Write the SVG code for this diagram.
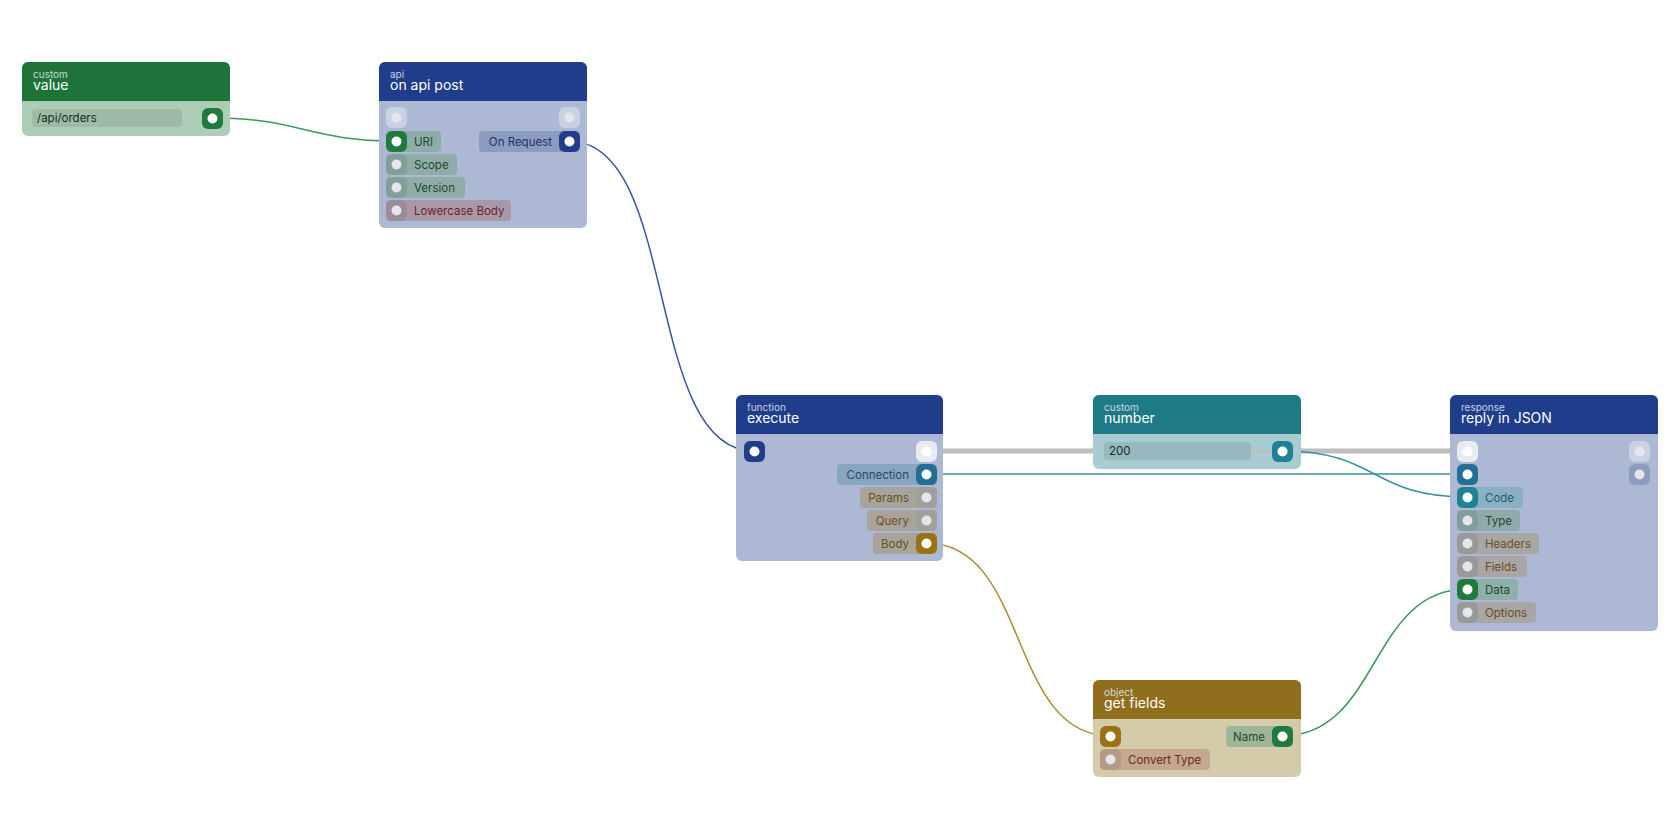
<svg xmlns="http://www.w3.org/2000/svg" width="1680" height="840" viewBox="0 0 1680 840">
<style>
text{font-family:Inter,"Noto Sans",sans-serif}
.cat{font-size:10px;fill:#e4e8f0;opacity:.85}
.ttl{font-size:14px;fill:#fff}
.pt{font-size:11.5px}
.wire{fill:none;stroke-width:1.5}
.dot{fill:#fff}
.idot{fill:#e4e6ec}
.ip{fill:#fff;opacity:.35}
.sq{fill:#000;opacity:.08}
</style>
<g id="connectors">
<path class="wire" stroke="#3a9a5a" d="M212 118 C300 118 308 141 396 141"/>
<path class="wire" stroke="#3a55a8" d="M569 141 C680 141 643 451 754 451"/>
<path fill="none" stroke="#bdbdbd" stroke-width="5" d="M926 451 L1467 451"/>
<path class="wire" stroke="#3a8fa8" d="M926 474 L1467 474"/>
<path class="wire" stroke="#3a8fa8" d="M1282 451 C1380 451 1369 497 1467 497"/>
<path class="wire" stroke="#b08a30" d="M926 543 C1030 543 1007 736 1111 736"/>
<path class="wire" stroke="#3a9a5a" d="M1282 736 C1380 736 1369 589 1467 589"/>
</g>
<g id="node-value">
<rect x="22" y="62" width="208" height="74" rx="6" fill="#aecdb6"/>
<path d="M22 101 V68 a6 6 0 0 1 6 -6 H224 a6 6 0 0 1 6 6 V101 Z" fill="#1e7339"/>
<text class="cat" x="33" y="78">custom</text><text class="ttl" x="33" y="90">value</text>
<rect x="32" y="109" width="150" height="18" rx="4" fill="#9dbba7"/>
<text class="pt" x="37" y="122" fill="#1a2a20">/api/orders</text>
<rect x="202" y="108" width="21" height="21" rx="6" fill="#1e7a3e"/><circle class="dot" cx="212.5" cy="118.5" r="5"/>
</g>
<g id="node-api">
<rect x="379" y="62" width="208" height="166" rx="6" fill="#adb9d4"/>
<path d="M379 101 V68 a6 6 0 0 1 6 -6 H581 a6 6 0 0 1 6 6 V101 Z" fill="#1f3d8a"/>
<text class="cat" x="390" y="78">api</text><text class="ttl" x="390" y="90">on api post</text>
<rect class="ip" x="386" y="107" width="21" height="21" rx="6"/><circle class="idot" cx="396.5" cy="117.5" r="5"/>
<rect class="ip" x="559" y="107" width="21" height="21" rx="6"/><circle class="idot" cx="569.5" cy="117.5" r="5"/>
<rect x="386" y="131" width="55" height="21" rx="4" fill="#8fada8"/>
<rect x="386" y="131" width="21" height="21" rx="6" fill="#1e7a3e"/><circle class="dot" cx="396.5" cy="141.5" r="5"/>
<text class="pt" x="414" y="146" fill="#1c4a2e">URI</text>
<rect x="386" y="154" width="71" height="21" rx="4" fill="#8fada8"/><rect class="sq" x="386" y="154" width="21" height="21" rx="6"/><circle class="idot" cx="396.5" cy="164.5" r="5"/>
<text class="pt" x="414" y="169" fill="#1c4a2e">Scope</text>
<rect x="386" y="177" width="79" height="21" rx="4" fill="#8fada8"/><rect class="sq" x="386" y="177" width="21" height="21" rx="6"/><circle class="idot" cx="396.5" cy="187.5" r="5"/>
<text class="pt" x="414" y="192" fill="#1c4a2e">Version</text>
<rect x="386" y="200" width="125" height="21" rx="4" fill="#a899a8"/><rect class="sq" x="386" y="200" width="21" height="21" rx="6"/><circle class="idot" cx="396.5" cy="210.5" r="5"/>
<text class="pt" x="414" y="215" fill="#6b1f2a">Lowercase Body</text>
<rect x="479" y="131" width="101" height="21" rx="4" fill="#8b9cc0"/>
<rect x="559" y="131" width="21" height="21" rx="6" fill="#1f3d8a"/><circle class="dot" cx="569.5" cy="141.5" r="5"/>
<text class="pt" x="552" y="146" fill="#1f3068" text-anchor="end">On Request</text>
</g>
<g id="node-execute">
<rect x="736" y="395" width="207" height="166" rx="6" fill="#adb9d4"/>
<path d="M736 434 V401 a6 6 0 0 1 6 -6 H937 a6 6 0 0 1 6 6 V434 Z" fill="#1f3d8a"/>
<text class="cat" x="747" y="411">function</text><text class="ttl" x="747" y="423">execute</text>
<rect x="744" y="441" width="21" height="21" rx="6" fill="#1f3d8a"/><circle class="dot" cx="754.5" cy="451.5" r="5"/>
<rect x="916" y="441" width="21" height="21" rx="6" fill="#e8ebf2"/><circle class="dot" cx="926.5" cy="451.5" r="5"/>
<rect x="837" y="464" width="100" height="21" rx="4" fill="#8aa5bf"/>
<rect x="916" y="464" width="21" height="21" rx="6" fill="#216f92"/><circle class="dot" cx="926.5" cy="474.5" r="5"/>
<text class="pt" x="909" y="479" fill="#1f4a6e" text-anchor="end">Connection</text>
<rect x="860" y="487" width="77" height="21" rx="4" fill="#a8a49b"/><rect x="916" y="487" width="21" height="21" rx="6" fill="#9a9a9a" opacity=".5"/><circle class="idot" cx="926.5" cy="497.5" r="5"/>
<text class="pt" x="909" y="502" fill="#6b4f1a" text-anchor="end">Params</text>
<rect x="867" y="510" width="70" height="21" rx="4" fill="#a8a49b"/><rect x="916" y="510" width="21" height="21" rx="6" fill="#9a9a9a" opacity=".5"/><circle class="idot" cx="926.5" cy="520.5" r="5"/>
<text class="pt" x="909" y="525" fill="#6b4f1a" text-anchor="end">Query</text>
<rect x="873" y="533" width="64" height="21" rx="4" fill="#a8a49b"/>
<rect x="916" y="533" width="21" height="21" rx="6" fill="#9a7214"/><circle class="dot" cx="926.5" cy="543.5" r="5"/>
<text class="pt" x="909" y="548" fill="#6b4f1a" text-anchor="end">Body</text>
</g>
<g id="node-number">
<rect x="1093" y="395" width="208" height="74" rx="6" fill="#a9ccd3"/>
<path d="M1093 434 V401 a6 6 0 0 1 6 -6 H1295 a6 6 0 0 1 6 6 V434 Z" fill="#1e7a87"/>
<text class="cat" x="1104" y="411">custom</text><text class="ttl" x="1104" y="423">number</text>
<rect x="1251" y="449" width="22" height="5" fill="#bdbdbd" opacity=".7"/>
<rect x="1104" y="442" width="147" height="18" rx="4" fill="#97b8bd"/>
<text class="pt" x="1109" y="455" fill="#1a2a2a">200</text>
<rect x="1272" y="441" width="21" height="21" rx="6" fill="#1e8194"/><circle class="dot" cx="1282.5" cy="451.5" r="5"/>
</g>
<g id="node-reply">
<rect x="1450" y="395" width="208" height="236" rx="6" fill="#adb9d4"/>
<path d="M1450 434 V401 a6 6 0 0 1 6 -6 H1652 a6 6 0 0 1 6 6 V434 Z" fill="#1f3d8a"/>
<text class="cat" x="1461" y="411">response</text><text class="ttl" x="1461" y="423">reply in JSON</text>
<rect x="1457" y="441" width="21" height="21" rx="6" fill="#e8ebf2"/><circle class="dot" cx="1467.5" cy="451.5" r="5"/>
<rect class="ip" x="1629" y="441" width="21" height="21" rx="6"/><circle class="idot" cx="1639.5" cy="451.5" r="5"/>
<rect x="1457" y="464" width="21" height="21" rx="6" fill="#216f92"/><circle class="dot" cx="1467.5" cy="474.5" r="5"/>
<rect x="1629" y="464" width="21" height="21" rx="6" fill="#8b9cc0"/><circle class="idot" cx="1639.5" cy="474.5" r="5"/>
<rect x="1457" y="487" width="66" height="21" rx="4" fill="#8cb0c3"/>
<rect x="1457" y="487" width="21" height="21" rx="6" fill="#1e8194"/><circle class="dot" cx="1467.5" cy="497.5" r="5"/>
<text class="pt" x="1485" y="502" fill="#1e5a6e">Code</text>
<rect x="1457" y="510" width="63" height="21" rx="4" fill="#8faaaa"/><rect class="sq" x="1457" y="510" width="21" height="21" rx="6"/><circle class="idot" cx="1467.5" cy="520.5" r="5"/>
<text class="pt" x="1485" y="525" fill="#1c4a2e">Type</text>
<rect x="1457" y="533" width="82" height="21" rx="4" fill="#a8a6a6"/><rect class="sq" x="1457" y="533" width="21" height="21" rx="6"/><circle class="idot" cx="1467.5" cy="543.5" r="5"/>
<text class="pt" x="1485" y="548" fill="#6b4f1a">Headers</text>
<rect x="1457" y="556" width="70" height="21" rx="4" fill="#a8a6a6"/><rect class="sq" x="1457" y="556" width="21" height="21" rx="6"/><circle class="idot" cx="1467.5" cy="566.5" r="5"/>
<text class="pt" x="1485" y="571" fill="#6b4f1a">Fields</text>
<rect x="1457" y="579" width="61" height="21" rx="4" fill="#8fb0a8"/>
<rect x="1457" y="579" width="21" height="21" rx="6" fill="#1e7a3e"/><circle class="dot" cx="1467.5" cy="589.5" r="5"/>
<text class="pt" x="1485" y="594" fill="#1c4a2e">Data</text>
<rect x="1457" y="602" width="79" height="21" rx="4" fill="#a8a6a6"/><rect class="sq" x="1457" y="602" width="21" height="21" rx="6"/><circle class="idot" cx="1467.5" cy="612.5" r="5"/>
<text class="pt" x="1485" y="617" fill="#6b4f1a">Options</text>
</g>
<g id="node-getfields">
<rect x="1093" y="680" width="208" height="97" rx="6" fill="#d4cbaa"/>
<path d="M1093 719 V686 a6 6 0 0 1 6 -6 H1295 a6 6 0 0 1 6 6 V719 Z" fill="#8f6e1d"/>
<text class="cat" x="1104" y="696">object</text><text class="ttl" x="1104" y="708">get fields</text>
<rect x="1100" y="726" width="21" height="21" rx="6" fill="#9a7214"/><circle class="dot" cx="1110.5" cy="736.5" r="5"/>
<rect x="1226" y="726" width="67" height="21" rx="4" fill="#9eb59a"/>
<rect x="1272" y="726" width="21" height="21" rx="6" fill="#1e7a3e"/><circle class="dot" cx="1282.5" cy="736.5" r="5"/>
<text class="pt" x="1265" y="741" fill="#1c4a2e" text-anchor="end">Name</text>
<rect x="1100" y="749" width="110" height="21" rx="4" fill="#c4a890"/><rect class="sq" x="1100" y="749" width="21" height="21" rx="6"/><circle class="idot" cx="1110.5" cy="759.5" r="5"/>
<text class="pt" x="1128" y="764" fill="#6b2a1a">Convert Type</text>
</g>
</svg>
